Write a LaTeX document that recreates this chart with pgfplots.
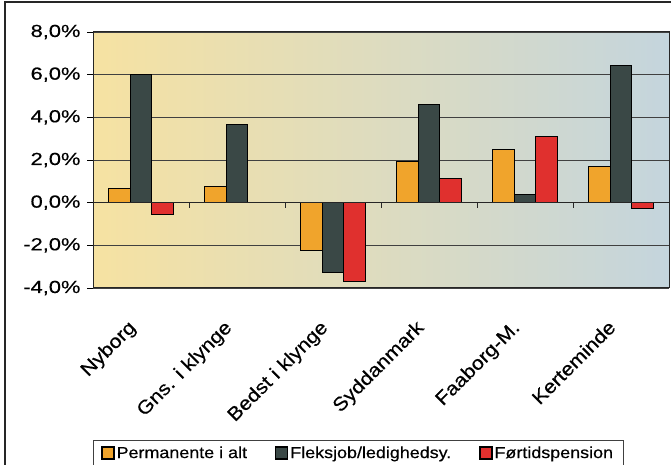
\documentclass[border=0pt]{standalone}
\usepackage{pgfplots}
\pgfplotsset{compat=1.18}
\usepackage{fontspec}
\setmainfont{Liberation Sans}[FakeStretch=1.12, FakeBold=0.4]
\newfontfamily\tickfont{Liberation Sans}[FakeStretch=1.25, FakeBold=0.4]
\definecolor{cOr}{HTML}{F0A42C}
\definecolor{cGr}{HTML}{3A4846}
\definecolor{cRd}{HTML}{E0302E}
\definecolor{bgL}{HTML}{F6E2A2}
\definecolor{bgM}{HTML}{EEE6C4}
\definecolor{bgR}{HTML}{C4D5DD}
\pgfplotstableread{
x or gr rd
0 0.67 6.02 -0.57
1 0.75 3.68 0
2 -2.25 -3.29 -3.70
3 1.91 4.61 1.13
4 2.48 0.39 3.11
5 1.71 6.41 -0.28
}\data
\begin{document}
\begin{tikzpicture}
\useasboundingbox (0,0) rectangle (671pt,465pt);
\fill[white] (0,0) rectangle (671pt,465pt);
\draw[line width=1.6pt, black!85] (5pt,-5pt) -- (5pt,463pt) -- (680pt,463pt);
\begin{axis}[
  width=576pt, height=256pt, scale only axis,
  at={(93pt,177pt)}, anchor=south west,
  xmin=-0.5, xmax=5.5, ymin=-4, ymax=8,
  ytick={-4,-2,0,2,4,6,8},
  yticklabels={{-4,0\%},{-2,0\%},{0,0\%},{2,0\%},{4,0\%},{6,0\%},{8,0\%}},
  xtick={0,1,2,3,4,5},
  xticklabels={Nyborg,Gns. i klynge,Bedst i klynge,Syddanmark,Faaborg-M.,Kerteminde},
  x tick label style={xshift=-14pt, yshift=-20pt, rotate=45, anchor=north east, font=\fontsize{19}{21}\selectfont},
  y tick label style={font=\tickfont\fontsize{17.5}{20}\selectfont, xshift=-3pt},
  major x tick style={draw=none},
  ytick style={black, line width=0.8pt},
  ytick pos=left, tick align=outside, major tick length=6pt,
  ymajorgrids, grid style={black!75, line width=0.7pt},
  axis line style={black!85, line width=1pt},
  axis background/.style={left color=bgL, middle color=bgM, right color=bgR},
  ybar=0pt, bar width=21.8pt,
  legend style={at={(0,-0.594)}, anchor=north west, legend columns=3,
    draw=black!75, line width=0.8pt, font=\fontsize{16}{20}\selectfont,
    inner xsep=8pt, inner ysep=4pt,
    /tikz/every even column/.append style={column sep=26pt}},
  legend image code/.code={\draw[#1, draw=black, line width=1.2pt] (0pt,-6pt) rectangle (12pt,6pt);},
]
\addplot[fill=cOr, draw=black, line width=1pt] table[x=x,y=or]{\data};
\addplot[fill=cGr, draw=black, line width=1pt] table[x=x,y=gr]{\data};
\addplot[fill=cRd, draw=black, line width=1pt] table[x=x,y=rd]{\data};
\legend{Permanente i alt,Fleksjob/ledighedsy.,Førtidspension}
\draw[black!85, line width=0.8pt] (axis cs:-0.5,0) -- (axis cs:5.5,0);
\pgfplotsinvokeforeach{0.5,1.5,2.5,3.5,4.5}{\draw[black!85, line width=0.8pt] (axis cs:#1,0) -- ++(0pt,-5pt);}
\end{axis}
\end{tikzpicture}
\end{document}
